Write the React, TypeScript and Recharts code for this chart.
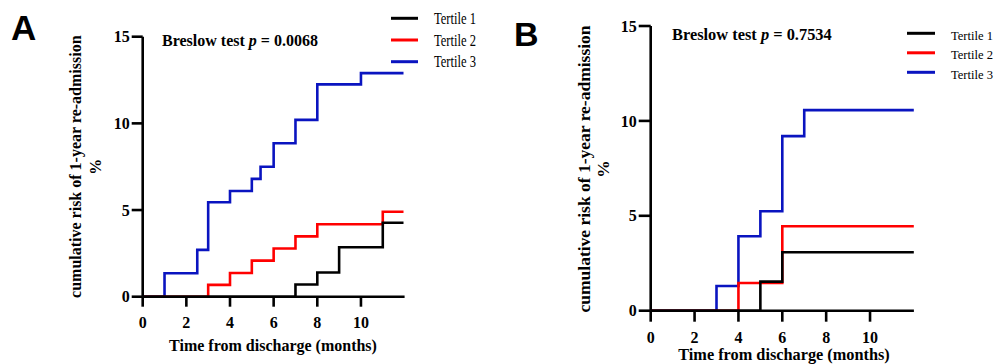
import React from 'react';
import { LineChart, Line, XAxis, YAxis } from 'recharts';

// ---------- data ----------
const seriesNames = ['Tertile 1', 'Tertile 2', 'Tertile 3'];
const seriesColors = ['#000000', '#ff0000', '#0a14c0'];

const xTicks = [0, 2, 4, 6, 8, 10];
const yTicks = [0, 5, 10, 15];

// Panel A
const a1Times = [0, 7, 8, 9, 11, 11.95];
const a1Vals = [0, 0.7, 1.4, 2.85, 4.27, 4.27];
const a2Times = [0, 3, 4, 5, 6, 7, 8, 11, 11.95];
const a2Vals = [0, 0.68, 1.37, 2.08, 2.78, 3.48, 4.18, 4.9, 4.9];
const a3Times = [0, 1, 2.5, 3, 4, 5, 5.4, 6, 7, 8, 10, 11.95];
const a3Vals = [0, 1.35, 2.7, 5.45, 6.1, 6.8, 7.5, 8.85, 10.2, 12.25, 12.9, 12.9];

// Panel B
const b1Times = [0, 5, 6, 12];
const b1Vals = [0, 1.53, 3.08, 3.08];
const b2Times = [0, 4, 6, 12];
const b2Vals = [0, 1.46, 4.45, 4.45];
const b3Times = [0, 3, 4, 5, 6, 7, 12];
const b3Vals = [0, 1.3, 3.92, 5.24, 9.2, 10.57, 10.57];

const pValueA = '0.0068';
const pValueB = '0.7534';
const xTitle = 'Time from discharge (months)';
const yTitle = 'cumulative risk of 1-year re-admission';

const toPts = (t: number[], v: number[]) => t.map((x, i) => ({ t: x, v: v[i] }));

const SERIF = '"Liberation Serif", "Times New Roman", serif';
const SANS = '"Liberation Sans", Arial, sans-serif';

type PanelProps = {
  left: number;
  width: number;
  margin: { top: number; right: number; bottom: number; left: number };
  series: { t: number; v: number }[][];
  tickSize: number;
};

const tickStyle = { fill: '#000', fontFamily: SERIF, fontWeight: 700, fontSize: 16 };

const Panel = ({ left, width, margin, series, tickSize }: PanelProps) => {
  const order = [2, 1, 0];
  return (
    <div style={{ position: 'absolute', left, top: 0 }}>
      <LineChart width={width} height={364} margin={margin} style={{ overflow: 'visible' }}>
        <XAxis
          type="number"
          dataKey="t"
          domain={[0, 12]}
          ticks={xTicks}
          allowDataOverflow
          height={30}
          axisLine={{ stroke: '#000', strokeWidth: 2.6 }}
          tickLine={{ stroke: '#000', strokeWidth: 2.6 }}
          tickSize={tickSize}
          tickMargin={10}
          tick={tickStyle}
        />
        <YAxis
          type="number"
          domain={[0, 15]}
          ticks={yTicks}
          allowDataOverflow
          width={60}
          axisLine={{ stroke: '#000', strokeWidth: 2.6 }}
          tickLine={{ stroke: '#000', strokeWidth: 2.6 }}
          tickSize={tickSize + 1}
          tickMargin={2}
          tick={tickStyle}
        />
        {order.map((i) => (
          <Line
            key={i}
            data={series[i]}
            dataKey="v"
            type="stepAfter"
            stroke={seriesColors[i]}
            strokeWidth={2.6}
            dot={false}
            activeDot={false}
            isAnimationActive={false}
            strokeLinecap="butt"
          />
        ))}
      </LineChart>
    </div>
  );
};

const Overlay = () => (
  <svg
    width={997}
    height={364}
    style={{ position: 'absolute', left: 0, top: 0, pointerEvents: 'none' }}
  >
    {/* panel letters */}
    <text x={11} y={40} fontFamily={SANS} fontWeight="bold" fontSize={35} fill="#000">A</text>
    <text x={514} y={46} fontFamily={SANS} fontWeight="bold" fontSize={34} fill="#000">B</text>

    {/* Breslow */}
    <text x={162} y={46} fontFamily={SERIF} fontWeight="bold" fontSize={16} fill="#000">
      Breslow test <tspan fontStyle="italic">p</tspan> = {pValueA}
    </text>
    <text x={672} y={39.5} fontFamily={SERIF} fontWeight="bold" fontSize={16.4} fill="#000">
      Breslow test <tspan fontStyle="italic">p</tspan> = {pValueB}
    </text>

    {/* x titles */}
    <text x={273} y={350.5} textAnchor="middle" fontFamily={SERIF} fontWeight="bold" fontSize={16} fill="#000">{xTitle}</text>
    <text x={784} y={360} textAnchor="middle" fontFamily={SERIF} fontWeight="bold" fontSize={16.3} fill="#000">{xTitle}</text>

    {/* y titles */}
    <g transform="translate(81,166.7) rotate(-90)">
      <text x={0} y={0} textAnchor="middle" fontFamily={SERIF} fontWeight="bold" fontSize={16} fill="#000">{yTitle}</text>
      <text x={0} y={20} textAnchor="middle" fontFamily={SERIF} fontWeight="bold" fontSize={16} fill="#000">%</text>
    </g>
    <g transform="translate(590,169) rotate(-90)">
      <text x={0} y={0} textAnchor="middle" fontFamily={SERIF} fontWeight="bold" fontSize={17.5} fill="#000">{yTitle}</text>
      <text x={0} y={19} textAnchor="middle" fontFamily={SERIF} fontWeight="bold" fontSize={17.5} fill="#000">%</text>
    </g>

    {/* legends */}
    {seriesNames.map((n, i) => (
      <g key={'la' + i}>
        <line x1={391} x2={418} y1={18.3 + i * 21.7} y2={18.3 + i * 21.7} stroke={seriesColors[i]} strokeWidth={3} />
        <text x={434} y={24 + i * 21.7} fontFamily={SERIF} fontSize={16} fill="#000" textLength={42} lengthAdjust="spacingAndGlyphs">{n}</text>
      </g>
    ))}
    {seriesNames.map((n, i) => (
      <g key={'lb' + i}>
        <line x1={907} x2={935} y1={33.3 + i * 19.5} y2={33.3 + i * 19.5} stroke={seriesColors[i]} strokeWidth={3} />
        <text x={951} y={39.5 + i * 19.6} fontFamily={SERIF} fontSize={13} fill="#000" textLength={42} lengthAdjust="spacingAndGlyphs">{n}</text>
      </g>
    ))}
  </svg>
);

export default function App() {
  const seriesA = [toPts(a1Times, a1Vals), toPts(a2Times, a2Vals), toPts(a3Times, a3Vals)];
  const seriesB = [toPts(b1Times, b1Vals), toPts(b2Times, b2Vals), toPts(b3Times, b3Vals)];
  return (
    <div style={{ position: 'absolute', left: 0, top: 0, width: 997, height: 364, background: '#fff' }}>
      <Panel
        left={0}
        width={500}
        margin={{ top: 36.7, right: 95.4, bottom: 37.3, left: 82.7 }}
        series={seriesA}
        tickSize={10}
      />
      <Panel
        left={500}
        width={497}
        margin={{ top: 26, right: 83.1, bottom: 23.3, left: 90.7 }}
        series={seriesB}
        tickSize={11}
      />
      <Overlay />
    </div>
  );
}
